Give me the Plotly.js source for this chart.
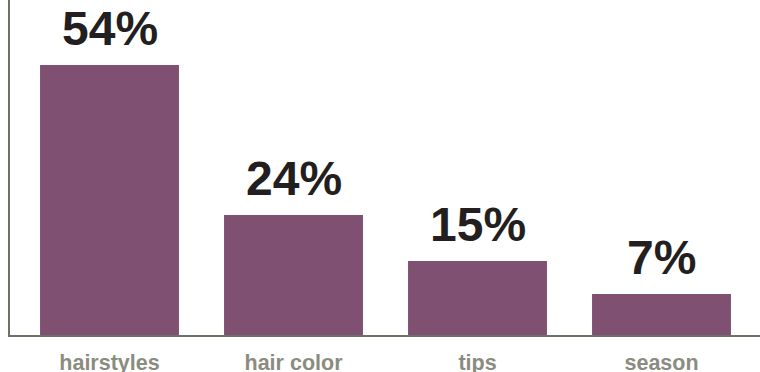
<!DOCTYPE html>
<html>
<head>
<meta charset="utf-8">
<script src="https://cdn.plot.ly/plotly-3.0.1.min.js"></script>
<style>html,body{margin:0;padding:0;background:#fff;}#chart{width:760px;height:372px;}</style>
</head>
<body>
<div id="chart"></div>
<script>
const categories = ["hairstyles", "hair color", "tips", "season"];
const barValues = [54, 24, 14.8, 8.2];
const valueLabels = ["54%", "24%", "15%", "7%"];

const FONT = "Liberation Sans, Arial, Helvetica, sans-serif";

const trace = {
  type: "bar",
  x: categories,
  y: barValues,
  marker: {color: "#805072"},
  width: 0.755,
  hoverinfo: "none"
};

const annotations = categories.map((c, i) => ({
  x: c, y: barValues[i], xref: "x", yref: "y",
  text: valueLabels[i], showarrow: false,
  xanchor: "center", yanchor: "bottom", yshift: 8,
  font: {family: FONT, size: 48, color: "#231F20", weight: 700}
}));

const layout = {
  width: 760, height: 372,
  margin: {l: 10, r: 0, t: 0, b: 37, pad: 0},
  paper_bgcolor: "#fff", plot_bgcolor: "#fff",
  showlegend: false,
  annotations: annotations,
  xaxis: {
    range: [-0.5408, 3.5353],
    showline: true, linecolor: "#6E7166", linewidth: 2,
    showgrid: false, zeroline: false, ticks: "",
    ticklabelstandoff: 7,
    tickfont: {family: FONT, size: 21.5, color: "#8B8C80", weight: 700},
    fixedrange: true
  },
  yaxis: {
    range: [0, 67],
    showline: true, linecolor: "#6E7166", linewidth: 2,
    showgrid: false, zeroline: false, showticklabels: false, ticks: "",
    fixedrange: true
  }
};

Plotly.newPlot("chart", [trace], layout, {displayModeBar: false, staticPlot: true});
</script>
</body>
</html>
